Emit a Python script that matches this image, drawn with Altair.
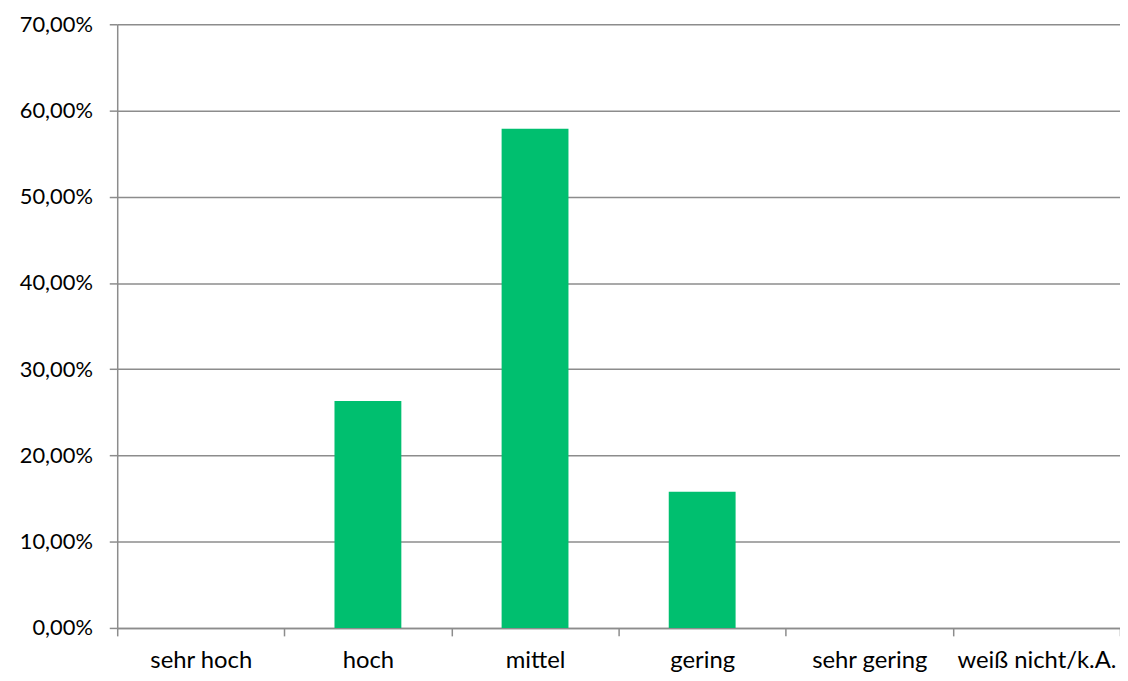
import altair as alt
import pandas as pd

categories = ["sehr hoch", "hoch", "mittel", "gering", "sehr gering", "weiß nicht/k.A."]
values = [0.0, 0.2632, 0.5789, 0.1579, 0.0, 0.0]
y_ticks = [0.0, 0.1, 0.2, 0.3, 0.4, 0.5, 0.6, 0.7]

df = pd.DataFrame({"cat": categories, "val": values})

FONT = "Lato"
GRID = "#8c8c8c"

chart = alt.Chart(df).mark_bar(color="#00bf6f", width=alt.RelativeBandSize(0.4)).encode(
    x=alt.X("cat:N", sort=categories, title=None,
            scale=alt.Scale(paddingInner=0, paddingOuter=0),
            axis=alt.Axis(labelAngle=0, labelFont=FONT, labelFontSize=24, labelColor="#000000",
                          labelPadding=13, tickBand="extent", tickSize=8, tickColor=GRID,
                          tickWidth=1.5, domainColor=GRID, domainWidth=1.5, grid=False)),
    y=alt.Y("val:Q", title=None,
            scale=alt.Scale(domain=[0, 0.7], nice=False),
            axis=alt.Axis(values=y_ticks, labelExpr="replace(format(datum.value, '.2%'), '.', ',')",
                          labelFont=FONT, labelFontSize=22, labelColor="#000000", labelPadding=17,
                          tickSize=8, tickColor=GRID, tickWidth=1.5, domainColor=GRID, domainWidth=1.5,
                          grid=True, gridColor=GRID, gridWidth=1.5)),
).properties(
    width=1010, height=608,
    autosize=alt.AutoSizeParams(type="none"),
    padding={"left": 110, "top": 14, "right": 0, "bottom": 43},
).configure_view(stroke=None)

chart.save("out.html", embed_options={"renderer": "svg", "actions": False})
